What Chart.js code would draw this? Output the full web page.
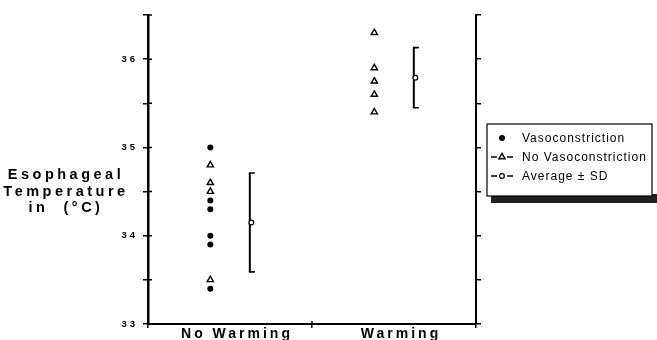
<!DOCTYPE html>
<html>
<head>
<meta charset="utf-8">
<script src="https://cdn.jsdelivr.net/npm/chart.js@4.4.1/dist/chart.umd.min.js"></script>
<style>
  html, body { margin: 0; padding: 0; background: #fff; }
  canvas { display: block; }
</style>
</head>
<body>
<canvas id="chart" width="657" height="340"></canvas>
<script>
// ─── values ─────────────────────────────────────────────────
const groups = ['No Warming', 'Warming'];
const vasoNoWarm = [35.0, 34.4, 34.3, 34.0, 33.9, 33.4];
const vasoWarm = [];
const noVasoNoWarm = [34.8, 34.6, 34.5, 33.5];
const noVasoWarm = [36.3, 35.9, 35.75, 35.6, 35.4];
const avgTemp = [34.15, 35.79];
const sdTemp = [0.56, 0.34];
const yTitle = ['Esophageal', 'Temperature', 'in  (°C)'];
const yMin = 33, yMax = 36.5, yStep = 0.5;

const FONT = "'Liberation Sans', Arial, sans-serif";

function atGroup(vals, g, off) {
    return vals.map(v => ({ x: g + 0.5 + off, y: v }));
}

// ─── error bars (drawn under the mean marker) ───────────────
const errorBars = {
    id: 'errorBars',
    beforeDatasetsDraw(chart) {
        const ctx = chart.ctx, xs = chart.scales.x, ys = chart.scales.y;
        ctx.save();
        ctx.strokeStyle = '#000';
        chart.data.datasets[2].data.forEach(d => {
            const x = xs.getPixelForValue(d.x) - 1.5;
            const top = ys.getPixelForValue(d.y + d.sd);
            const bot = ys.getPixelForValue(d.y - d.sd);
            ctx.lineWidth = 2;
            ctx.beginPath();
            ctx.moveTo(x, top); ctx.lineTo(x, bot);
            ctx.stroke();
            ctx.lineWidth = 1.6;
            ctx.beginPath();
            ctx.moveTo(x - 1, top); ctx.lineTo(x + 5, top);
            ctx.moveTo(x - 1, bot); ctx.lineTo(x + 5, bot);
            ctx.stroke();
        });
        ctx.restore();
    }
};

// ─── spaced-out lettering like the old plot, title + boxed legend ──
const decor = {
    id: 'decor',
    beforeDraw(chart) { chart.ctx.letterSpacing = '3px'; },
    afterDraw(chart) {
        const ctx = chart.ctx, area = chart.chartArea;
        ctx.save();

        // short inner stubs so the ticks cross the left axis
        ctx.strokeStyle = '#000';
        ctx.lineWidth = 1.5;
        ctx.beginPath();
        chart.scales.y.ticks.forEach(t => {
            const py = chart.scales.y.getPixelForValue(t.value);
            ctx.moveTo(area.left, py); ctx.lineTo(area.left + 4, py);
        });
        chart.scales.x.ticks.forEach(t => {
            if (t.value % 1 !== 0) return;
            const px = chart.scales.x.getPixelForValue(t.value);
            ctx.moveTo(px, area.bottom); ctx.lineTo(px, area.bottom - 3);
        });
        ctx.stroke();

        // y title, three centred lines
        ctx.letterSpacing = '3.5px';
        ctx.font = 'bold 14.5px ' + FONT;
        ctx.fillStyle = '#000';
        ctx.textAlign = 'center';
        ctx.textBaseline = 'middle';
        yTitle.forEach((t, i) => ctx.fillText(t, 66, 175 + i * 16.5));

        // legend box with heavy shadow
        const bx = 487, by = 124, bw = 165, bh = 72;
        ctx.fillStyle = '#222';
        ctx.fillRect(bx + 4, by + bh - 2, bw + 6, 9);
        ctx.fillStyle = '#fff';
        ctx.fillRect(bx, by, bw, bh);
        ctx.strokeStyle = '#000';
        ctx.lineWidth = 1.2;
        ctx.strokeRect(bx, by, bw, bh);

        ctx.letterSpacing = '1px';
        ctx.font = '12px ' + FONT;
        ctx.textAlign = 'left';
        chart.data.datasets.forEach((ds, i) => {
            const y = 138 + i * 19;
            ctx.fillStyle = '#000';
            ctx.strokeStyle = '#000';
            if (i > 0) {
                ctx.lineWidth = 1.5;
                ctx.beginPath();
                ctx.moveTo(491, y); ctx.lineTo(497, y);
                ctx.moveTo(507, y); ctx.lineTo(513, y);
                ctx.stroke();
            }
            ctx.fillStyle = ds.backgroundColor;
            ctx.lineWidth = ds.borderWidth;
            Chart.helpers.drawPoint(ctx, {
                pointStyle: ds.pointStyle, radius: ds.pointRadius,
                rotation: 0, borderWidth: ds.borderWidth
            }, 502, y);
            ctx.fillStyle = '#000';
            ctx.fillText(ds.label, 522, y + 1);
        });

        ctx.restore();
        ctx.letterSpacing = '0px';
    }
};

const halfTicks = [];
for (let v = yMin; v <= yMax + 1e-9; v += yStep) halfTicks.push({ value: v });

new Chart(document.getElementById('chart'), {
    type: 'scatter',
    data: {
        datasets: [{
            label: 'Vasoconstriction',
            data: [...atGroup(vasoNoWarm, 0, -0.12), ...atGroup(vasoWarm, 1, -0.12)],
            pointStyle: 'circle',
            pointRadius: 3,
            backgroundColor: '#000',
            borderColor: '#000',
            borderWidth: 0
        }, {
            label: 'No Vasoconstriction',
            data: [...atGroup(noVasoNoWarm, 0, -0.12), ...atGroup(noVasoWarm, 1, -0.12)],
            pointStyle: 'triangle',
            pointRadius: 3.6,
            backgroundColor: '#fff',
            borderColor: '#000',
            borderWidth: 1.4
        }, {
            label: 'Average ± SD',
            data: avgTemp.map((v, i) => ({ x: i + 0.5 + 0.13, y: v, sd: sdTemp[i] })),
            pointStyle: 'circle',
            pointRadius: 2.4,
            backgroundColor: '#fff',
            borderColor: '#000',
            borderWidth: 1.2
        }]
    },
    options: {
        responsive: false,
        devicePixelRatio: 1,
        animation: false,
        layout: { padding: { top: 15, left: 0, right: 0, bottom: 0 } },
        plugins: { legend: { display: false }, tooltip: { enabled: false } },
        scales: {
            x: {
                type: 'linear',
                min: 0, max: groups.length,
                afterBuildTicks: s => {
                    s.ticks = [];
                    for (let v = 0; v <= groups.length; v += 0.5) s.ticks.push({ value: v });
                },
                afterFit: s => { s.height = 16; },
                border: { color: '#000', width: 2 },
                grid: {
                    drawOnChartArea: false,
                    tickLength: 4,
                    lineWidth: 1.5,
                    tickColor: c => (c.tick && c.tick.value % 1 === 0) ? '#000' : 'rgba(0,0,0,0)'
                },
                ticks: {
                    padding: -2,
                    labelOffset: 7,
                    maxRotation: 0,
                    autoSkip: false,
                    color: '#000',
                    font: { family: FONT, size: 14, weight: 'bold' },
                    callback: v => (v % 1 === 0.5) ? groups[Math.floor(v)] : ''
                }
            },
            y: {
                min: yMin, max: yMax,
                afterBuildTicks: s => { s.ticks = halfTicks.map(t => ({ value: t.value })); },
                afterFit: s => { s.width = 148; },
                border: { color: '#000', width: 2.5 },
                grid: { drawOnChartArea: false, tickLength: 5, lineWidth: 1.5, color: '#000' },
                ticks: {
                    padding: 5,
                    color: '#000',
                    font: { family: FONT, size: 9.5, weight: 'bold' },
                    callback: v => (v % 1 === 0) ? String(v) : ''
                }
            },
            y2: {
                position: 'right',
                min: yMin, max: yMax,
                afterBuildTicks: s => { s.ticks = halfTicks.map(t => ({ value: t.value })); },
                afterFit: s => { s.width = 181; },
                border: { color: '#000', width: 2 },
                grid: { drawOnChartArea: false, tickLength: 5, lineWidth: 1.5, color: '#000' },
                ticks: { display: false }
            }
        }
    },
    plugins: [errorBars, decor]
});
</script>
</body>
</html>
